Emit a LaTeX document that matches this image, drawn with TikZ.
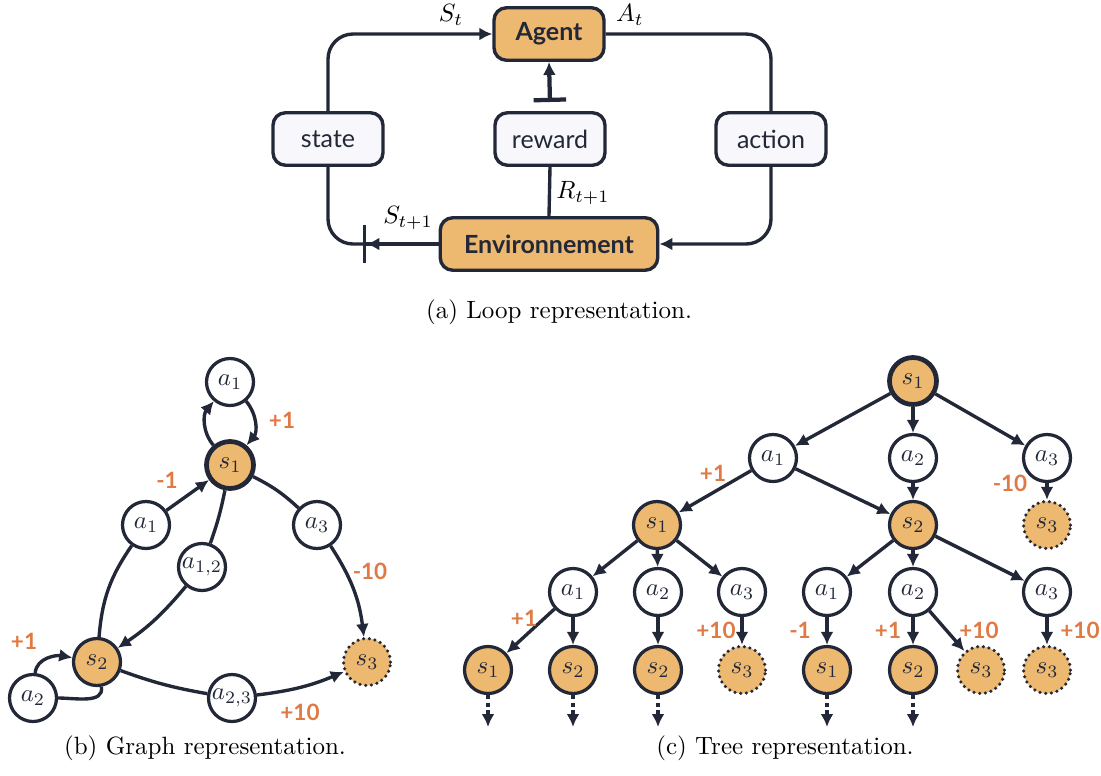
\documentclass[tikz,border=0pt]{standalone}
\usepackage{fontspec}
\newfontfamily\lato{Lato}
\usetikzlibrary{arrows.meta}
\definecolor{navy}{HTML}{232838}
\definecolor{sand}{HTML}{EDB86F}
\definecolor{rust}{HTML}{E07A45}
\definecolor{pale}{HTML}{F7F7FC}
\begin{document}
\begin{tikzpicture}[x=0.4pt,y=-0.4pt,line width=1.35pt,draw=navy,
  >={Latex[length=5.2pt,width=5.2pt]},
  box/.style={draw=navy,line width=1.35pt,rounded corners=5pt,fill=pale,minimum width=44pt,minimum height=21pt,inner sep=0pt,text=navy,font=\lato\fontsize{10}{12}\selectfont},
  hot/.style={box,fill=sand,font=\lato\bfseries\fontsize{10}{12}\selectfont},
  act/.style={circle,draw=navy,line width=1.3pt,fill=white,minimum size=18.8pt,inner sep=0pt,text=navy},
  sta/.style={act,fill=sand},
  root/.style={sta,line width=1.9pt},
  term/.style={sta,line width=1.4pt,line cap=round,dash pattern=on 0pt off 2.3pt},
  rwd/.style={text=rust,font=\lato\bfseries\fontsize{9}{10}\selectfont},
  more/.style={->,dash pattern=on 1.6pt off 1.4pt}]
\useasboundingbox (0,0) rectangle (1101,775);
% loop
\node[hot] (ag) at (549,34){Agent};
\node[box] (st) at (328,139){state};
\node[box] (rw) at (550,139){reward};
\node[box] (ac) at (771,139){action};
\node[hot, minimum width=87pt] (env) at (549,244){Environnement};
\coordinate (gap) at (363,244);
\coordinate (rtop) at (550,102);
\draw[->,rounded corners=10pt](st.north) |- (ag.west);
\draw[rounded corners=10pt](ag.east) -| (ac.north);
\draw[->,rounded corners=10pt](ac.south) |- (env.east);
\draw[rounded corners=10pt](st.south) |- (gap);
\draw[-{Latex[length=5.2pt,width=5.2pt]Bar[width=15pt,sep=0pt]}](env.west) -- (gap);
\draw[](env.north) -- (rw.south);
\draw[{Bar[width=13pt]}->,line width=1.7pt](rtop) -- (ag.south);
\node (lst) at (451,15){$S_t$};
\node (lat) at (630,15){$A_t$};
\node (lrt) at (583,193){$R_{t+1}$};
\node (lst1) at (408,218){$S_{t+1}$};
\node (capa) at (559,312){(a) Loop representation.};
% graph
\node[act] (ga1t) at (230,382){$a_1$};
\node[root] (gs1) at (230,465){$s_1$};
\node[act] (ga1) at (146,525){$a_1$};
\node[act] (ga12) at (202,567){$a_{1,2}$};
\node[act] (ga3) at (317,525){$a_3$};
\node[sta] (gs2) at (97,662){$s_2$};
\node[term] (gs3) at (367,662){$s_3$};
\node[act] (ga2) at (33,698){$a_2$};
\node[act] (ga23) at (232,698){$a_{2,3}$};
\draw[->](gs1) to[out=130,in=230] (ga1t);
\draw[->](ga1t) to[out=-50,in=50] (gs1);
\draw[->](ga1) -- (gs1);
\draw[](gs2) to[bend left=15] (ga1);
\draw[](gs1) to[bend left=4] (ga12);
\draw[->](ga12) to[bend left=8] (gs2);
\draw[](gs1) to[bend left=8] (ga3);
\draw[->](ga3) to[bend left=13] (gs3);
\draw[](gs2) to[bend right=5] (ga23);
\draw[->](ga23) to[bend right=8] (gs3);
\draw[->](ga2) to[out=85,in=170] (gs2);
\draw[](gs2) to[out=-80,in=0] (ga2);
\node[rwd] (g1) at (167,480){-1};
\node[rwd] (g2) at (282,420){+1};
\node[rwd] (g3) at (370,571){-10};
\node[rwd] (g4) at (24,641){+1};
\node[rwd] (g5) at (300,712){+10};
\node (capb) at (205,748){(b) Graph representation.};
% tree
\node[root] (t0) at (913,381){$s_1$};
\node[act] (t1) at (773,458){$a_1$};
\node[act] (t2) at (913,458){$a_2$};
\node[act] (t3) at (1047,458){$a_3$};
\node[sta] (t11) at (657,525){$s_1$};
\node[sta] (t12) at (913,525){$s_2$};
\node[term] (t33) at (1047,525){$s_3$};
\node[act] (t111) at (573,592){$a_1$};
\node[act] (t112) at (658,592){$a_2$};
\node[act] (t113) at (742,592){$a_3$};
\node[act] (t121) at (827,592){$a_1$};
\node[act] (t122) at (913,592){$a_2$};
\node[act] (t123) at (1047,592){$a_3$};
\node[sta] (u1) at (488,670){$s_1$};
\node[sta] (u2) at (573,670){$s_2$};
\node[sta] (u3) at (658,670){$s_2$};
\node[term] (u4) at (742,670){$s_3$};
\node[sta] (u5) at (827,670){$s_1$};
\node[sta] (u6) at (913,670){$s_2$};
\node[term] (u7) at (981,670){$s_3$};
\node[term] (u8) at (1047,670){$s_3$};
\draw[->](t0) -- (t1);
\draw[->](t0) -- (t2);
\draw[->](t0) -- (t3);
\draw[->](t1) -- (t11);
\draw[->](t1) -- (t12);
\draw[->](t2) -- (t12);
\draw[->](t3) -- (t33);
\draw[->](t11) -- (t111);
\draw[->](t11) -- (t112);
\draw[->](t11) -- (t113);
\draw[->](t12) -- (t121);
\draw[->](t12) -- (t122);
\draw[->](t12) -- (t123);
\draw[->](t111) -- (u1);
\draw[->](t111) -- (u2);
\draw[->](t112) -- (u3);
\draw[->](t113) -- (u4);
\draw[->](t121) -- (u5);
\draw[->](t122) -- (u6);
\draw[->](t122) -- (u7);
\draw[->](t123) -- (u8);
\foreach \n/\x in {u1/488,u2/573,u3/658,u5/827,u6/913}{
  \coordinate (\n e) at (\x,727);
  \draw[more](\n) -- (\n e);
}
\node[rwd] (r1) at (713,473){+1};
\node[rwd] (r2) at (1010,483){-10};
\node[rwd] (r3) at (524,618){+1};
\node[rwd] (r4) at (716,630){+10};
\node[rwd] (r5) at (800,630){-1};
\node[rwd] (r6) at (888,630){+1};
\node[rwd] (r7) at (979,630){+10};
\node[rwd] (r8) at (1080,630){+10};
\node (capc) at (785,748){(c) Tree representation.};
\end{tikzpicture}
\end{document}
